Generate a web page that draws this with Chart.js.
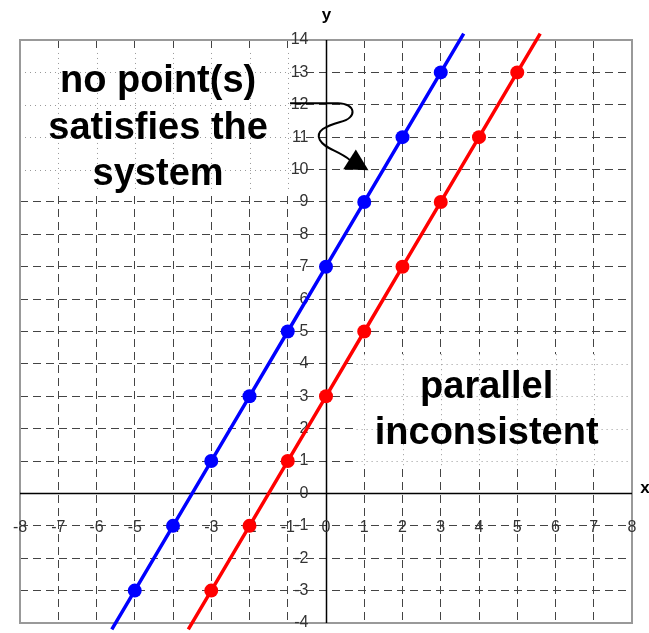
<!DOCTYPE html>
<html>
<head>
<meta charset="utf-8">
<script src="https://cdn.jsdelivr.net/npm/chart.js@4.4.1/dist/chart.umd.min.js"></script>
<style>
  html, body { margin: 0; padding: 0; background: #fff; }
  #wrap { width: 649px; height: 633px; }
</style>
</head>
<body>
<div id="wrap"><canvas id="chart"></canvas></div>
<script>
// line through the blue points (first and last entries are where the drawn line stops)
var blueX = [-5.6, -5, -4, -3, -2, -1, 0, 1, 2, 3, 3.6];
var blueY = [-4.2, -3, -1, 1, 3, 5, 7, 9, 11, 13, 14.2];
// red line, same slope, shifted down
var redX = [-3.6, -3, -2, -1, 0, 1, 2, 3, 4, 5, 5.6];
var redY = [-4.2, -3, -1, 1, 3, 5, 7, 9, 11, 13, 14.2];

var xTickLabels = ['-8', '-7', '-6', '-5', '-4', '-3', '-2', '-1', '0', '1', '2', '3', '4', '5', '6', '7', '8'];
var yTickLabels = ['-4', '-3', '-2', '-1', '0', '1', '2', '3', '4', '5', '6', '7', '8', '9', '10', '11', '12', '13', '14'];

var noteLeft = ['no point(s)', 'satisfies the', 'system'];
var noteRight = ['parallel', 'inconsistent'];

// squiggly arrow, in data units
var arrowPath = [[-0.94, 12.05], [0.31, 12.05], [0.78, 12.05], [0.84, 11.59], [0.37, 11.47],
                 [0, 11.35], [-0.29, 11.19], [-0.16, 10.91], [-0.03, 10.63], [0.31, 10.6], [0.63, 10.29]];
var arrowHead = [[0.45, 10.01], [0.78, 10.62], [1.11, 9.98]];

function toPoints(xs, ys) {
    return xs.map(function (x, i) { return { x: x, y: ys[i] }; });
}

function endRadius(n) {
    return function (c) {
        return (c.dataIndex === 0 || c.dataIndex === n - 1) ? 0 : 7;
    };
}

var decor = {
    id: 'decor',
    beforeDatasetsDraw: function (chart) {
        var ctx = chart.ctx, a = chart.chartArea;
        var xs = chart.scales.x, ys = chart.scales.y;

        // white boxes behind the notes, with a faint dotted grid
        [[-8, -0.8, 9.3, 13.6], [0.8, 8, 0.8, 4.3]].forEach(function (b) {
            var l = xs.getPixelForValue(b[0]), r = xs.getPixelForValue(b[1]);
            var t = ys.getPixelForValue(b[3]), bt = ys.getPixelForValue(b[2]);
            ctx.save();
            ctx.fillStyle = '#fff';
            ctx.fillRect(l, t, r - l, bt - t);
            ctx.strokeStyle = '#999';
            ctx.lineWidth = 1;
            ctx.setLineDash([1, 4]);
            ctx.beginPath();
            for (var x = Math.ceil(b[0]); x <= b[1]; x++) {
                if (x === -8 || x === 8) continue;
                var px = Math.round(xs.getPixelForValue(x)) + 0.5;
                ctx.moveTo(px, t);
                ctx.lineTo(px, bt);
            }
            for (var y = Math.ceil(b[2]); y <= b[3]; y++) {
                var py = Math.round(ys.getPixelForValue(y)) + 0.5;
                ctx.moveTo(l, py);
                ctx.lineTo(r, py);
            }
            ctx.stroke();
            ctx.restore();
        });

        ctx.save();
        // frame
        ctx.strokeStyle = '#999';
        ctx.lineWidth = 2;
        ctx.strokeRect(a.left, a.top, a.right - a.left, a.bottom - a.top);

        // axes
        var x0 = Math.round(xs.getPixelForValue(0)) + 0.5;
        var y0 = Math.round(ys.getPixelForValue(0)) + 0.5;
        ctx.strokeStyle = '#000';
        ctx.lineWidth = 1.5;
        ctx.beginPath();
        ctx.moveTo(x0, a.top);
        ctx.lineTo(x0, a.bottom);
        ctx.moveTo(a.left, y0);
        ctx.lineTo(a.right, y0);
        ctx.stroke();

        // tick labels
        ctx.fillStyle = '#333';
        ctx.font = '16px "Liberation Sans", Arial, sans-serif';
        ctx.textBaseline = 'middle';
        ctx.textAlign = 'center';
        var ly = ys.getPixelForValue(-1) + 2;
        xTickLabels.forEach(function (s) {
            ctx.fillText(s, xs.getPixelForValue(Number(s)), ly);
        });
        ctx.textAlign = 'right';
        yTickLabels.forEach(function (s) {
            ctx.fillText(s, x0 - 18, ys.getPixelForValue(Number(s)));
        });

        // axis names
        ctx.fillStyle = '#000';
        ctx.font = 'bold 17px "Liberation Sans", Arial, sans-serif';
        ctx.textAlign = 'center';
        ctx.fillText('y', x0, a.top - 25);
        ctx.fillText('x', a.right + 13, y0 - 5);
        ctx.restore();
    },
    afterDatasetsDraw: function (chart) {
        var ctx = chart.ctx;
        var xs = chart.scales.x, ys = chart.scales.y;
        function px(p) { return [xs.getPixelForValue(p[0]), ys.getPixelForValue(p[1])]; }

        ctx.save();
        ctx.fillStyle = '#000';
        ctx.font = 'bold 38px "Liberation Sans", Arial, sans-serif';
        ctx.textAlign = 'center';
        ctx.textBaseline = 'alphabetic';
        var leftY = [12.39, 10.94, 9.52];
        noteLeft.forEach(function (s, i) {
            ctx.fillText(s, xs.getPixelForValue(-4.39), ys.getPixelForValue(leftY[i]));
        });
        var rightY = [2.95, 1.53];
        noteRight.forEach(function (s, i) {
            ctx.fillText(s, xs.getPixelForValue(4.2), ys.getPixelForValue(rightY[i]));
        });

        // arrow
        var p = arrowPath.map(px);
        ctx.strokeStyle = '#000';
        ctx.lineWidth = 2;
        ctx.beginPath();
        ctx.moveTo(p[0][0], p[0][1]);
        ctx.lineTo(p[1][0], p[1][1]);
        for (var i = 2; i + 2 < p.length; i += 3) {
            ctx.bezierCurveTo(p[i][0], p[i][1], p[i + 1][0], p[i + 1][1], p[i + 2][0], p[i + 2][1]);
        }
        ctx.stroke();
        var h = arrowHead.map(px);
        ctx.beginPath();
        ctx.moveTo(h[0][0], h[0][1]);
        ctx.lineTo(h[1][0], h[1][1]);
        ctx.lineTo(h[2][0], h[2][1]);
        ctx.closePath();
        ctx.fill();
        ctx.restore();
    }
};

var ctx = document.getElementById('chart').getContext('2d');
new Chart(ctx, {
    type: 'scatter',
    data: {
        datasets: [
            {
                data: toPoints(blueX, blueY),
                showLine: true,
                borderColor: '#0000ff',
                backgroundColor: '#0000ff',
                borderWidth: 3.5,
                pointRadius: endRadius(blueX.length),
                pointHoverRadius: endRadius(blueX.length),
                pointBorderWidth: 0,
                clip: false
            },
            {
                data: toPoints(redX, redY),
                showLine: true,
                borderColor: '#ff0000',
                backgroundColor: '#ff0000',
                borderWidth: 3.5,
                pointRadius: endRadius(redX.length),
                pointHoverRadius: endRadius(redX.length),
                pointBorderWidth: 0,
                clip: false
            }
        ]
    },
    options: {
        responsive: true,
        maintainAspectRatio: false,
        animation: false,
        events: [],
        layout: { padding: { left: 20, top: 40, right: 17, bottom: 10 } },
        scales: {
            x: {
                type: 'linear',
                min: -8,
                max: 8,
                ticks: { display: false, stepSize: 1 },
                grid: { color: '#444', lineWidth: 1, drawTicks: false },
                border: { display: false, dash: [8, 5] }
            },
            y: {
                type: 'linear',
                min: -4,
                max: 14,
                ticks: { display: false, stepSize: 1 },
                grid: { color: '#444', lineWidth: 1, drawTicks: false },
                border: { display: false, dash: [8, 5] }
            }
        },
        plugins: {
            legend: { display: false },
            tooltip: { enabled: false }
        }
    },
    plugins: [decor]
});
</script>
</body>
</html>
